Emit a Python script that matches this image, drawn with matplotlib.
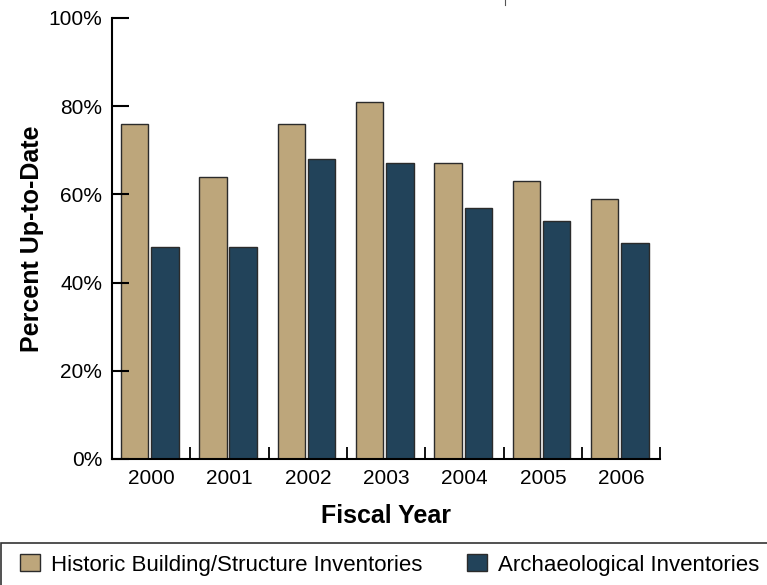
import matplotlib.pyplot as plt
from matplotlib.patches import Rectangle
from matplotlib.lines import Line2D
import numpy as np

years = ['2000', '2001', '2002', '2003', '2004', '2005', '2006']
historic = [76, 64, 76, 81, 67, 63, 59]
archaeo = [48, 48, 68, 67, 57, 54, 49]
yticks = [0, 20, 40, 60, 80, 100]

tan = '#BDA67B'
navy = '#22435A'
edge = '#2b2b2b'

plt.rcParams['font.family'] = ['Liberation Sans', 'DejaVu Sans']

fig = plt.figure(figsize=(7.67, 5.85), dpi=100)
ax = fig.add_axes([0.146, 0.2154, 0.715, 0.754])

x = np.arange(len(years))
w = 0.35
ax.bar(x + 0.115, historic, w, align='edge', color=tan, edgecolor=edge, linewidth=1,
       label='Historic Building/Structure Inventories')
ax.bar(x + 0.5, archaeo, w, align='edge', color=navy, edgecolor=edge, linewidth=1,
       label='Archaeological Inventories')

ax.set_xlim(0, len(years))
ax.set_ylim(0, 100)

# year labels centred in each group, tick marks on group boundaries
ax.set_xticks(x + 0.5)
ax.set_xticklabels(years, fontsize=15)
ax.tick_params(axis='x', which='major', length=0, pad=7)
ax.set_xticks(np.arange(1, len(years) + 1), minor=True)
ax.tick_params(axis='x', which='minor', direction='in', length=9, width=1.3)

ax.set_yticks(yticks)
ax.set_yticklabels([f'{v}%' for v in yticks], fontsize=15)
ax.tick_params(axis='y', direction='in', length=12, width=1.5, pad=7)

for s in ['top', 'right']:
    ax.spines[s].set_visible(False)
for s in ['left', 'bottom']:
    ax.spines[s].set_linewidth(1.5)

ax.set_xlabel('Fiscal Year', fontsize=18, fontweight='bold', labelpad=12)
ax.set_ylabel('Percent Up-to-Date', fontsize=18, fontweight='bold', labelpad=3)

# legend box running off the right edge
fig.patches.append(Rectangle((0.0015, -0.01), 1.1, 0.082, transform=fig.transFigure,
                             fill=False, edgecolor='#333333', linewidth=1.2))
fig.legend(loc='center left', bbox_to_anchor=(0.026, 0.034), ncol=2, frameon=False,
           fontsize=16, handlelength=0.9, handleheight=0.8, handletextpad=0.5,
           columnspacing=2.0, borderaxespad=0, borderpad=0)

# small stray mark at the top
fig.lines.append(Line2D([0.658, 0.658], [0.992, 1.0], transform=fig.transFigure,
                        color='#555555', linewidth=0.8))

fig.savefig('out.png', dpi=100)
